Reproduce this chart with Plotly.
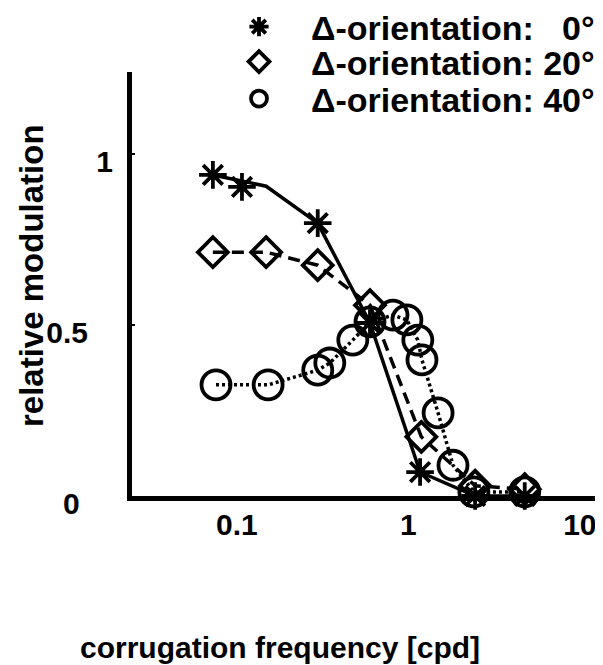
import plotly.graph_objects as go

# ---- data ----
star_x = [0.0724, 0.107, 0.296, 0.597, 1.17, 2.45, 4.77]
star_y = [0.939, 0.904, 0.798, 0.506, 0.070, 0.0, 0.0]
star_line_x = [0.0724, 0.148, 0.296, 0.597, 1.17, 2.45, 4.77]
star_line_y = [0.939, 0.906, 0.798, 0.506, 0.070, 0.0, 0.0]

dia_x = [0.0724, 0.148, 0.296, 0.597, 1.19, 2.45, 4.77]
dia_y = [0.713, 0.713, 0.675, 0.558, 0.173, 0.03, 0.02]

circ_x = [0.0755, 0.152, 0.296, 0.348, 0.474, 0.597, 0.813, 0.98, 1.135, 1.2, 1.49, 1.82, 2.41, 4.77]
circ_y = [0.325, 0.325, 0.368, 0.389, 0.456, 0.509, 0.529, 0.515, 0.456, 0.398, 0.243, 0.09, 0.012, 0.012]

names = ["Δ-orientation:\u00a0\u00a0\u00a00°", "Δ-orientation: 20°", "Δ-orientation: 40°"]
x_tickvals = [0.1, 1, 10]
x_ticktext = ["0.1", "1", "10"]
y_tickvals = [0, 0.5, 1]
y_ticktext = ["0\u00a0\u00a0\u00a0\u00a0", "0.5\u00a0\u00a0\u00a0", "1"]
x_title = "corrugation frequency [cpd]"
y_title = "relative modulation"

FONT = "Liberation Sans, Arial, sans-serif"
K = "black"

OFF = 8  # page body margin of the html page
W, H = 603 - OFF, 665 - OFF
ML, MR, MT, MB = 132 - OFF, 6, 0, 169
PW = W - ML - MR
PH = H - MT - MB


def px_y(p):
    # p is a pixel row in the final screenshot
    return (H - MB - (p - OFF)) / PH


def px_x(p):
    return ((p - OFF) - ML) / PW


fig = go.Figure()

# lines (no legend)
fig.add_trace(go.Scatter(x=star_line_x, y=star_line_y, mode="lines",
                         line=dict(color=K, width=3.5), showlegend=False,
                         cliponaxis=False, hoverinfo="skip"))
fig.add_trace(go.Scatter(x=dia_x, y=dia_y, mode="lines",
                         line=dict(color=K, width=3.5, dash="12px,7px"), showlegend=False,
                         cliponaxis=False, hoverinfo="skip"))
fig.add_trace(go.Scatter(x=circ_x, y=circ_y, mode="lines",
                         line=dict(color=K, width=3.5, dash="3px,3px"), showlegend=False,
                         cliponaxis=False, hoverinfo="skip"))

# markers (legend)
fig.add_trace(go.Scatter(x=star_x, y=star_y, mode="markers", name=names[0], legend="legend",
                         marker=dict(symbol="asterisk-open", size=23, color=K,
                                     line=dict(color=K, width=3.8)),
                         cliponaxis=False))
fig.add_trace(go.Scatter(x=dia_x, y=dia_y, mode="markers", name=names[1], legend="legend2",
                         marker=dict(symbol="diamond-open", size=23, color=K,
                                     line=dict(color=K, width=3.8)),
                         cliponaxis=False))
fig.add_trace(go.Scatter(x=circ_x, y=circ_y, mode="markers", name=names[2], legend="legend3",
                         marker=dict(symbol="circle-open", size=29, color=K,
                                     line=dict(color=K, width=3.8)),
                         cliponaxis=False))

leg_common = dict(x=px_x(207), xanchor="left", yanchor="middle",
                  bgcolor="rgba(0,0,0,0)", itemwidth=94,
                  font=dict(size=34, family=FONT, weight="bold", color=K))

fig.update_layout(
    width=W, height=H,
    margin=dict(l=ML, r=MR, t=MT, b=MB, autoexpand=False),
    paper_bgcolor="white", plot_bgcolor="white",
    font=dict(family=FONT, color=K, size=30, weight="bold"),
    showlegend=True,
    legend=dict(y=px_y(27), **leg_common),
    legend2=dict(y=px_y(62), **leg_common),
    legend3=dict(y=px_y(99), **leg_common),
    xaxis=dict(type="log", range=[-1.612, 1.10], showgrid=False, zeroline=False,
               showline=True, linewidth=5, linecolor=K,
               tickvals=x_tickvals, ticktext=x_ticktext, ticks="",
               tickfont=dict(size=30, family=FONT, weight="bold"), ticklabelstandoff=-2),
    yaxis=dict(range=[0, 1.24], domain=[0, px_y(72)], showgrid=False, zeroline=False,
               showline=True, linewidth=5, linecolor=K,
               tickvals=y_tickvals, ticktext=y_ticktext, ticks="inside", ticklen=3,
               tickwidth=2, tickcolor=K, ticklabelshift=7,
               tickfont=dict(size=30, family=FONT, weight="bold"), ticklabelstandoff=8),
    annotations=[
        dict(text=x_title, xref="paper", yref="paper", x=px_x(280), y=px_y(647),
             xanchor="center", yanchor="middle", showarrow=False,
             font=dict(size=30, family=FONT, weight="bold")),
        dict(text=y_title, xref="paper", yref="paper", x=px_x(31), y=px_y(276),
             xanchor="center", yanchor="middle", showarrow=False, textangle=-90,
             font=dict(size=33, family=FONT, weight="bold")),
    ],
)

fig.write_html("out.html")
